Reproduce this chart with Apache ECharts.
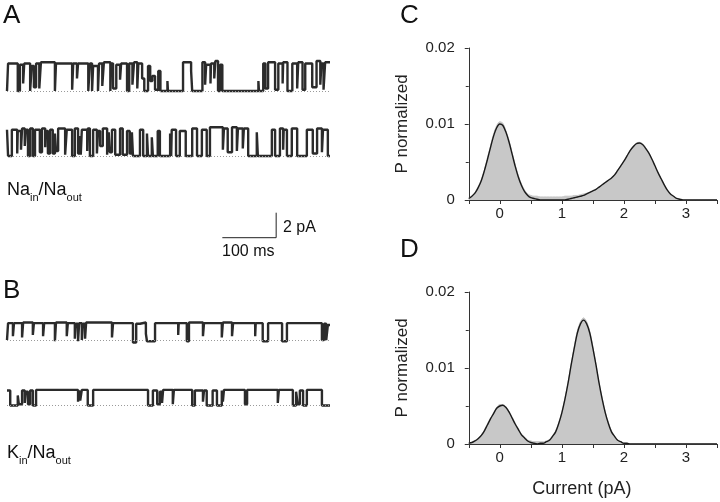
<!DOCTYPE html>
<html>
<head>
<meta charset="utf-8">
<script src="https://cdn.jsdelivr.net/npm/echarts@6/dist/echarts.min.js"></script>
<style>
html,body{margin:0;padding:0;background:#fff;}
#chart{width:720px;height:502px;}
</style>
</head>
<body>
<div id="chart"></div>
<script>
// ---------- DATA ----------
// Single-channel traces: [time (ms), current (pA)] breakpoints of a step trace
var traceA1 = [[0,0],[2,2.2],[20,0],[24,2.1],[30,0.6],[32,2.2],[43,0],[46,2.0],[50,0.3],[54,2.2],[60,0.2],[63,2.3],[89,0],[91,2.2],[121,0.1],[123,2.2],[130,1.0],[132,2.2],[151,0],[154,2.2],[158,0],[160,2.0],[169,0],[171,2.2],[177,0.4],[180,2.3],[192,0],[193,2.2],[197,0.2],[203,2.1],[210,0.9],[212,2.2],[223,0],[227,2.2],[233,0.5],[236,2.3],[242,0.2],[244,2.2],[251,1.0],[255,0],[262,2.0],[266,0.8],[270,1.2],[275,0.1],[281,1.6],[285,0],[298,0.8],[299,0],[327,2.3],[342,1.6],[344,0],[363,2.3],[368,0.5],[370,2.1],[378,0.6],[379,2.2],[385,1.0],[387,2.4],[392,0],[396,2.1],[400,0],[467,0.8],[468,0],[476,2.2],[480,0.2],[485,2.3],[498,0.1],[504,2.2],[512,0.6],[513,2.3],[521,0],[530,2.2],[539,0.2],[541,2.3],[549,0.1],[554,2.2],[567,0.3],[575,2.4],[582,0.5],[584,2.2],[588,0.1],[591,2.3],[600,2.3]];
var traceA2 = [[0,2.1],[2,0],[9,2.1],[19,0.2],[20,2.0],[26,0.5],[28,2.2],[33,0.8],[35,2.1],[39,0],[43,2.2],[48,0],[52,2.1],[61,0.3],[65,2.2],[71,0.7],[72,2.0],[76,0.2],[80,2.1],[85,0.2],[89,1.8],[91,0.4],[95,2.2],[108,0.1],[111,2.1],[121,0],[126,2.2],[132,0.2],[136,1.6],[137,0.1],[139,2.1],[149,0.4],[150,2.2],[154,0],[160,2.1],[167,0.2],[169,2.0],[173,0.8],[178,2.2],[186,0.1],[189,1.9],[191,0.3],[195,2.1],[201,0.1],[210,2.2],[215,0.1],[223,2.0],[228,0.2],[232,1.9],[234,0],[247,2.1],[253,0],[260,1.8],[262,0],[269,1.5],[271,0],[280,2.0],[284,0],[303,1.8],[305,0],[306,2.1],[314,0],[321,2.0],[332,0],[344,2.2],[353,0],[362,2.1],[371,0],[377,2.3],[401,0.5],[403,2.2],[410,0.3],[418,2.3],[427,0.4],[429,2.2],[438,0.6],[440,2.2],[448,0],[464,1.9],[466,0],[492,2.1],[498,0],[507,2.2],[513,0.5],[514,2.1],[520,0],[529,2.2],[539,0],[557,2.1],[568,0.2],[576,2.2],[585,0.3],[587,2.1],[596,0],[600,0]];
var traceB1 = [[0,0],[2,1.35],[11,0.3],[13,1.35],[28,0.2],[30,1.4],[48,0.4],[50,1.35],[67,0.3],[69,1.35],[89,-0.1],[91,1.4],[111,0.3],[113,1.35],[126,0.1],[128,1.3],[132,-0.1],[134,1.35],[139,0],[141,1.3],[145,0.1],[147,1.4],[195,0.2],[197,1.35],[234,-0.2],[240,1.3],[247,1.4],[258,0.5],[260,-0.1],[275,1.35],[318,0.4],[319,1.35],[334,-0.1],[338,1.4],[364,0.3],[366,1.35],[399,0.2],[401,1.4],[418,0.3],[420,1.35],[461,0.3],[462,1.35],[475,-0.1],[485,1.35],[511,-0.1],[520,1.35],[585,0],[589,1.3],[593,0],[596,1.2],[600,1.2]];
var traceB2 = [[0,1.2],[6,0],[20,0.8],[22,0.1],[28,1.2],[33,0.2],[35,1.1],[39,0.1],[43,1.2],[48,0],[54,1.25],[132,0.3],[134,1.2],[136,0.4],[139,1.25],[150,0],[160,1.25],[262,0],[271,1.2],[279,0.1],[284,1.1],[288,0.2],[290,1.25],[308,0.1],[310,1.25],[344,0],[349,1.2],[364,0.3],[366,1.2],[371,0],[382,1.2],[390,0],[399,1.2],[401,0.3],[403,1.25],[442,0.1],[446,1.25],[503,0.2],[505,1.25],[531,0],[537,1.1],[540,0.1],[544,1.2],[550,0],[557,1.25],[585,0],[600,0]];

// Scale bar (ms, pA)
var scaleBarStart = 400;
var scaleBarTime = 100;
var scaleBarCurrent = 2;

// All-points histograms: current bins (pA) and normalized probability
var currentBins = [
  -0.5,-0.45,-0.4,-0.35,-0.3,-0.25,-0.2,-0.15,-0.1,-0.05,
  0,0.05,0.1,0.15,0.2,0.25,0.3,0.35,0.4,0.45,
  0.5,0.55,0.6,0.65,0.7,0.75,0.8,0.85,0.9,0.95,
  1.0,1.05,1.1,1.15,1.2,1.25,1.3,1.35,1.4,1.45,
  1.5,1.55,1.6,1.65,1.7,1.75,1.8,1.85,1.9,1.95,
  2.0,2.05,2.1,2.15,2.2,2.25,2.3,2.35,2.4,2.45,
  2.5,2.55,2.6,2.65,2.7,2.75,2.8,2.85,2.9,2.95,
  3.0,3.05,3.1,3.15,3.2,3.25,3.3,3.35,3.4,3.45,
  3.5];
var histC = [
  0.0002,0.0005,0.0010,0.0017,0.0026,0.0039,0.0055,0.0071,0.0087,0.0098,
  0.0103,0.0101,0.0091,0.0078,0.0062,0.0046,0.0032,0.0021,0.0013,0.0008,
  0.0006,0.0005,0.0005,0.0004,0.0004,0.0004,0.0004,0.0004,0.0004,0.0004,
  0.0004,0.0005,0.0005,0.0005,0.0006,0.0006,0.0007,0.0008,0.0009,0.0010,
  0.0012,0.0014,0.0017,0.0020,0.0023,0.0026,0.0029,0.0033,0.0039,0.0045,
  0.0051,0.0058,0.0065,0.0071,0.0075,0.0076,0.0074,0.0069,0.0062,0.0054,
  0.0045,0.0036,0.0028,0.0020,0.0013,0.0008,0.0005,0.0002,0.0001,0,
  0,0,0,0,0,0,0,0,0,0,
  0];
var fitC = [
  0.0002,0.0005,0.0009,0.0016,0.0025,0.0038,0.0053,0.0069,0.0084,0.0095,
  0.0100,0.0098,0.0089,0.0076,0.0060,0.0044,0.0030,0.0019,0.0011,0.0006,
  0.0003,0.0002,0.0001,0,0,0,0,0,0,0,
  0,0,0.0001,0.0002,0.0003,0.0004,0.0005,0.0006,0.0008,0.0010,
  0.0012,0.0014,0.0017,0.0020,0.0023,0.0026,0.0029,0.0033,0.0039,0.0045,
  0.0051,0.0058,0.0065,0.0070,0.0074,0.0075,0.0073,0.0068,0.0062,0.0054,
  0.0045,0.0036,0.0028,0.0020,0.0013,0.0008,0.0005,0.0002,0.0001,0,
  0,0,0,0,0,0,0,0,0,0,
  0];
var histD = [
  0.0001,0.0002,0.0004,0.0007,0.0012,0.0018,0.0026,0.0034,0.0041,0.0048,
  0.0052,0.0052,0.0049,0.0043,0.0035,0.0027,0.0020,0.0013,0.0009,0.0005,
  0.0004,0.0003,0.0003,0.0003,0.0003,0.0004,0.0006,0.0011,0.0017,0.0028,
  0.0042,0.0060,0.0081,0.0105,0.0128,0.0149,0.0161,0.0166,0.0161,0.0148,
  0.0128,0.0105,0.0081,0.0060,0.0042,0.0028,0.0017,0.0010,0.0005,0.0003,
  0.0001,0.0001,0,0,0,0,0,0,0,0,
  0,0,0,0,0,0,0,0,0,0,
  0,0,0,0,0,0,0,0,0,0,
  0];
var fitD = [
  0.0001,0.0002,0.0004,0.0007,0.0011,0.0017,0.0025,0.0033,0.0040,0.0047,
  0.0050,0.0051,0.0048,0.0042,0.0034,0.0026,0.0019,0.0012,0.0008,0.0004,
  0.0002,0.0001,0,0.0001,0.0001,0.0003,0.0005,0.0010,0.0016,0.0027,
  0.0041,0.0059,0.0080,0.0104,0.0126,0.0146,0.0158,0.0163,0.0158,0.0146,
  0.0126,0.0104,0.0080,0.0059,0.0041,0.0027,0.0016,0.0010,0.0005,0.0003,
  0.0001,0.0001,0,0,0,0,0,0,0,0,
  0,0,0,0,0,0,0,0,0,0,
  0,0,0,0,0,0,0,0,0,0,
  0];

var xTickLabels = [0,1,2,3];

// ---------- BUILD ----------
function pairs(xs, ys){ return xs.map(function(x,i){ return [x, ys[i]]; }); }
var FONT = '"Liberation Sans", Arial, Helvetica, sans-serif';
var chart = echarts.init(document.getElementById('chart'), null, {renderer:'canvas'});

var grids = [
  {left:7, width:323, top:53.5, height:45},
  {left:7, width:323, top:118.5, height:45},
  {left:7, width:323, top:302.5, height:45},
  {left:7, width:323, top:368, height:45},
  {left:7, width:323, top:200.2, height:45},   // scale bar
  {left:468.75, width:250, top:48, height:152},
  {left:468.75, width:250, top:292, height:152}
];

var xAxes = [], yAxes = [], series = [];
for (var i=0;i<5;i++){
  xAxes.push({type:'value', gridIndex:i, min:0, max:600, show:false});
  yAxes.push({type:'value', gridIndex:i, min:-0.6, max:3.0, show:false});
}
var traces = [traceA1, traceA2, traceB1, traceB2];
traces.forEach(function(tr, i){
  series.push({
    type:'line', xAxisIndex:i, yAxisIndex:i, data:tr, step:'end',
    showSymbol:false, symbol:'none', animation:false, silent:true, z:2,
    lineStyle:{color:'#2b2b2b', width:2.4, join:'bevel', cap:'butt'},
    markLine:{silent:true, symbol:'none', label:{show:false},
      lineStyle:{color:'#9a9a9a', type:[1,2], width:1}, data:[{yAxis:0}]}
  });
});
series.push({
  type:'line', xAxisIndex:4, yAxisIndex:4, showSymbol:false, symbol:'none', animation:false,
  data:[[scaleBarStart,0],[scaleBarStart+scaleBarTime,0],[scaleBarStart+scaleBarTime,scaleBarCurrent]],
  lineStyle:{color:'#222', width:1}
});

function histAxes(gi, showName){
  xAxes.push({
    type:'value', gridIndex:gi, min:-0.5, max:3.5, interval:0.5,
    axisLine:{show:true, onZero:false, lineStyle:{color:'#333', width:1}},
    axisTick:{show:true, length:4, lineStyle:{color:'#333'}},
    splitLine:{show:false},
    axisLabel:{color:'#222', fontSize:15, fontFamily:FONT, margin:6,
      formatter:function(v){ return xTickLabels.indexOf(v) >= 0 ? String(v) : ''; }},
    name: showName ? 'Current (pA)' : '', nameLocation:'middle', nameGap:36,
    nameTextStyle:{color:'#222', fontSize:18, fontFamily:FONT, padding:[0,22,0,0]}
  });
  yAxes.push({
    type:'value', gridIndex:gi, min:0, max:0.02, interval:0.01,
    axisLine:{show:true, onZero:false, lineStyle:{color:'#333', width:1}},
    axisTick:{show:true, length:4, lineStyle:{color:'#333'}},
    minorTick:{show:true, splitNumber:2, length:3, lineStyle:{color:'#333'}},
    splitLine:{show:false}, minorSplitLine:{show:false},
    axisLabel:{color:'#222', fontSize:15, fontFamily:FONT, margin:14,
      formatter:function(v){ return v === 0 ? '0' : v.toFixed(2); }},
    name:'P normalized', nameLocation:'middle', nameRotate:90, nameGap:58,
    nameTextStyle:{color:'#222', fontSize:17, fontFamily:FONT}
  });
}
histAxes(5, false);
histAxes(6, true);

[[5, histC, fitC],[6, histD, fitD]].forEach(function(h){
  series.push({
    type:'line', xAxisIndex:h[0], yAxisIndex:h[0], data:pairs(currentBins, h[1]),
    smooth:0.3, showSymbol:false, symbol:'none', animation:false,
    lineStyle:{width:1, color:'#c4c4c4'}, areaStyle:{color:'#c8c8c8', opacity:1}
  });
  series.push({
    type:'line', xAxisIndex:h[0], yAxisIndex:h[0], data:pairs(currentBins, h[2]),
    smooth:0.3, showSymbol:false, symbol:'none', animation:false,
    lineStyle:{width:1.4, color:'#1a1a1a'}
  });
});

function letter(t, x, y){
  return {type:'text', left:x, top:y, silent:true,
    style:{text:t, fill:'#111', font:'26px ' + FONT}};
}
function ionLabel(a, b, c, d, x, y){
  return {type:'text', left:x, top:y, silent:true,
    style:{
      text:'{m|'+a+'}{s|'+b+'}{m|'+c+'}{s|'+d+'}',
      rich:{
        m:{fontSize:18, fontFamily:FONT, fill:'#111', color:'#111', lineHeight:22, verticalAlign:'top'},
        s:{fontSize:11, fontFamily:FONT, fill:'#111', color:'#111', lineHeight:11, verticalAlign:'bottom'}
      }
    }};
}

var option = {
  backgroundColor:'#fff',
  animation:false,
  grid:grids,
  xAxis:xAxes,
  yAxis:yAxes,
  series:series,
  graphic:[
    letter('A', 3, 3),
    letter('B', 3, 278),
    letter('C', 400, 3),
    letter('D', 400, 237),
    ionLabel('Na','in','/Na','out', 7, 181),
    ionLabel('K','in','/Na','out', 7, 444),
    {type:'text', left:283, top:220, silent:true, style:{text:'2 pA', fill:'#111', font:'16px ' + FONT}},
    {type:'text', left:222, top:244, silent:true, style:{text:'100 ms', fill:'#111', font:'16px ' + FONT}}
  ]
};
chart.setOption(option);
</script>
</body>
</html>
